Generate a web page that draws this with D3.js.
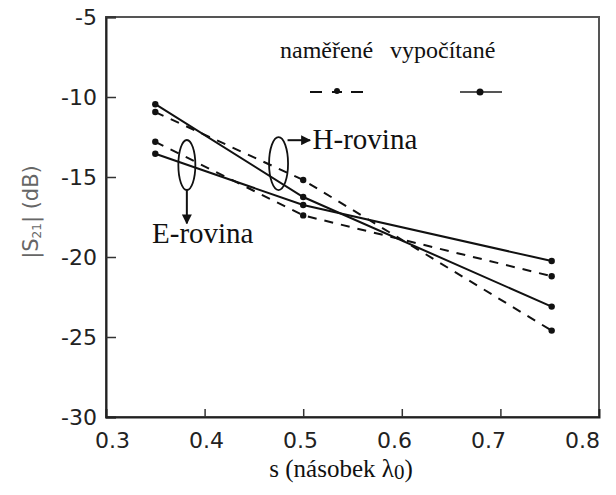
<!DOCTYPE html>
<html>
<head>
<meta charset="utf-8">
<script src="https://cdn.jsdelivr.net/npm/d3@7"></script>
<style>
body { margin: 0; background: #fff; }
.axis text { font-family: "DejaVu Sans", sans-serif; font-size: 22px; fill: #222; }
.serif { font-family: "Liberation Serif", serif; fill: #111; }
</style>
</head>
<body>
<div id="graph_container"></div>
<script>
// values
var sValues   = [0.35, 0.5, 0.752];
var measuredH = [-10.94, -15.19, -24.6];
var measuredE = [-12.8, -17.4, -21.2];
var calcH     = [-10.45, -16.25, -23.1];
var calcE     = [-13.55, -16.75, -20.25];
var xTicks    = [0.3, 0.4, 0.5, 0.6, 0.7, 0.8];
var yTicks    = [-5, -10, -15, -20, -25, -30];

createGraph();

function createGraph() {
    var frame_width  = 616,
        frame_height = 495,
        margin = {top: 17, right: 17, bottom: 78, left: 106},
        width  = frame_width - margin.left - margin.right,
        height = frame_height - margin.top - margin.bottom;

    var series = [
        {values: measuredH, dashed: true},
        {values: measuredE, dashed: true},
        {values: calcH, dashed: false},
        {values: calcE, dashed: false}
    ];

    var svg = d3.select("#graph_container").append("svg")
        .attr("width", frame_width)
        .attr("height", frame_height);

    var defs = svg.append("defs");
    defs.append("marker")
        .attr("id", "arrow")
        .attr("viewBox", "0 0 10 10")
        .attr("refX", 9).attr("refY", 5)
        .attr("markerWidth", 10).attr("markerHeight", 10)
        .attr("markerUnits", "userSpaceOnUse")
        .attr("orient", "auto")
        .append("path")
        .attr("d", "M0,0 L10,5 L0,10 Z")
        .attr("fill", "#111");

    var g = svg.append("g")
        .attr("transform", "translate(" + margin.left + "," + margin.top + ")");

    var x = d3.scaleLinear().domain([0.3, 0.8]).range([0, width]);
    // tick labels in the scan sit a little tighter than the ticks
    var xLab = d3.scaleLinear().domain([0.3, 0.8]).range([6, width - 17]);
    var y = d3.scaleLinear().domain([-30, -5]).range([height, 0]);

    // frame
    g.append("rect")
        .attr("width", width).attr("height", height)
        .attr("fill", "none").attr("stroke", "#555").attr("stroke-width", 2);

    var yAxis = g.append("g").attr("class", "axis")
        .call(d3.axisLeft(y).tickValues(yTicks).tickSize(-10).tickPadding(9)
            .tickFormat(function(d) { return String(d); }));
    yAxis.select(".domain").attr("stroke", "#222").attr("stroke-width", 2);
    yAxis.selectAll(".tick line").attr("stroke", "#333").attr("stroke-width", 1.5);

    g.append("g")
        .attr("transform", "translate(0," + height + ")")
        .call(d3.axisBottom(x).tickValues(xTicks.slice(1, -1)).tickSize(-8).tickFormat(""))
        .call(function(a) {
            a.select(".domain").attr("stroke", "#222").attr("stroke-width", 2);
            a.selectAll(".tick line").attr("stroke", "#333").attr("stroke-width", 1.5);
        });

    g.append("g").attr("class", "axis")
        .attr("transform", "translate(0," + height + ")")
        .call(d3.axisBottom(xLab).tickValues(xTicks).tickSize(0).tickPadding(15)
            .tickFormat(d3.format(".1f")))
        .select(".domain").remove();

    // axis titles
    var yt = svg.append("text")
        .attr("transform", "rotate(-90)")
        .attr("x", -212).attr("y", 38)
        .attr("text-anchor", "middle")
        .style("font-family", "DejaVu Sans").style("font-size", "21px")
        .attr("fill", "#666");
    yt.append("tspan").text("|S");
    yt.append("tspan").attr("baseline-shift", "-25%").style("font-size", "12px").text("21");
    yt.append("tspan").text("| (dB)");

    var xt = svg.append("text")
        .attr("class", "serif")
        .attr("x", 341).attr("y", 477)
        .attr("text-anchor", "middle")
        .style("font-size", "25px");
    xt.append("tspan").text("s (násobek λ");
    xt.append("tspan").attr("baseline-shift", "-10%").style("font-size", "21px").text("0");
    xt.append("tspan").text(")");

    // lines
    var line = d3.line()
        .x(function(d, i) { return x(sValues[i]); })
        .y(function(d) { return y(d); });

    series.forEach(function(s) {
        g.append("path")
            .datum(s.values)
            .attr("fill", "none")
            .attr("stroke", "#111")
            .attr("stroke-width", 2)
            .attr("stroke-dasharray", s.dashed ? "9,8" : null)
            .attr("d", line);
        g.selectAll(null)
            .data(s.values)
            .enter().append("circle")
            .attr("cx", function(d, i) { return x(sValues[i]); })
            .attr("cy", function(d) { return y(d); })
            .attr("r", 3.2)
            .attr("fill", "#111");
    });

    // ellipses and arrows
    g.append("ellipse")
        .attr("cx", x(0.475)).attr("cy", y(-14.16))
        .attr("rx", 9.5).attr("ry", 26.5)
        .attr("fill", "none").attr("stroke", "#111").attr("stroke-width", 1.8);
    g.append("line")
        .attr("x1", x(0.475) + 9).attr("y1", y(-12.7))
        .attr("x2", x(0.507)).attr("y2", y(-12.7))
        .attr("stroke", "#111").attr("stroke-width", 2)
        .attr("marker-end", "url(#arrow)");
    g.append("text").attr("class", "serif")
        .attr("x", x(0.5095)).attr("y", y(-13.25))
        .style("font-size", "29px")
        .text("H-rovina");

    g.append("ellipse")
        .attr("cx", x(0.382)).attr("cy", y(-14.25))
        .attr("rx", 8.5).attr("ry", 25)
        .attr("fill", "none").attr("stroke", "#111").attr("stroke-width", 1.8);
    g.append("line")
        .attr("x1", x(0.382)).attr("y1", y(-14.25) + 25)
        .attr("x2", x(0.382)).attr("y2", y(-17.9))
        .attr("stroke", "#111").attr("stroke-width", 2)
        .attr("marker-end", "url(#arrow)");
    g.append("text").attr("class", "serif")
        .attr("x", x(0.3467)).attr("y", y(-19.13))
        .style("font-size", "29px")
        .text("E-rovina");

    // legend
    var leg = svg.append("g");
    leg.append("text").attr("class", "serif")
        .attr("x", 280).attr("y", 58).style("font-size", "24px").text("naměřené");
    leg.append("text").attr("class", "serif")
        .attr("x", 390).attr("y", 58).style("font-size", "24px").text("vypočítané");
    [[310, 322], [351, 363]].forEach(function(p) {
        leg.append("line")
            .attr("x1", p[0]).attr("x2", p[1]).attr("y1", 92).attr("y2", 92)
            .attr("stroke", "#111").attr("stroke-width", 2);
    });
    leg.append("line")
        .attr("x1", 332).attr("x2", 342).attr("y1", 92).attr("y2", 92)
        .attr("stroke", "#111").attr("stroke-width", 2);
    leg.append("circle").attr("cx", 337).attr("cy", 91).attr("r", 3).attr("fill", "#111");
    leg.append("line")
        .attr("x1", 460).attr("x2", 502).attr("y1", 92).attr("y2", 92)
        .attr("stroke", "#555").attr("stroke-width", 2);
    leg.append("circle").attr("cx", 480).attr("cy", 92).attr("r", 3.5).attr("fill", "#111");
}
</script>
</body>
</html>
